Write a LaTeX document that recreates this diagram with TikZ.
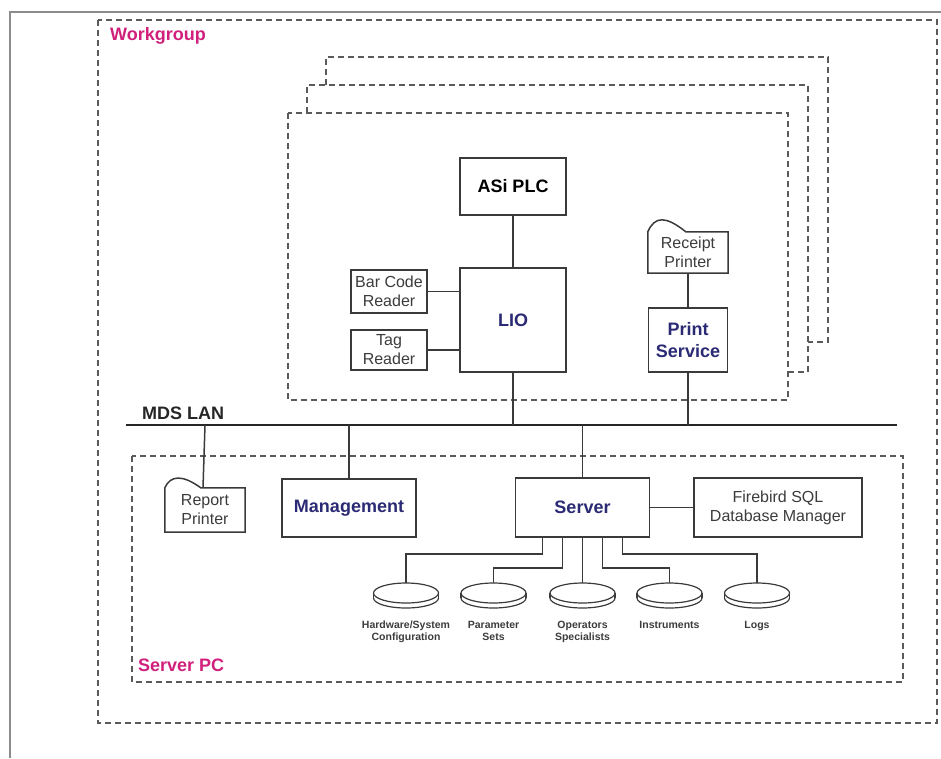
\documentclass[tikz,border=0pt]{standalone}
\usepackage{fontspec}
\setmainfont{Liberation Sans}
\usetikzlibrary{positioning}
\definecolor{wire}{HTML}{3A3A3A}
\definecolor{dashgray}{HTML}{5A5A5A}
\definecolor{rim}{HTML}{8C8C8C}
\definecolor{navy}{HTML}{2B2A74}
\definecolor{rose}{HTML}{D0207C}
\definecolor{capt}{HTML}{3C3C3C}
\newcommand{\bigB}{\fontsize{18}{22}\selectfont\bfseries}
\newcommand{\midR}{\fontsize{16}{19}\selectfont}
\newcommand{\smB}{\fontsize{10.5}{12}\selectfont\bfseries}
\tikzset{dg/.style={line join=miter,x=1pt,y=-1pt},
  box/.style={draw=wire,line width=1.5pt,fill=white,inner sep=0pt,align=center},
  unit/.style={box,font=\bigB,text=navy},
  dev/.style={box,font=\midR,text=capt},
  doc/.style={inner sep=0pt,align=center,font=\midR,text=capt},
  wirel/.style={draw=wire,line width=1.5pt},
  zone/.style={draw=dashgray,line width=1.6pt,dash pattern=on 6pt off 4pt},
  zonelbl/.style={anchor=west,inner sep=0pt,font=\bigB,text=rose},
  dlabel/.style={anchor=north,inner sep=0pt,align=center,font=\smB,text=capt},
  rimline/.style={draw=wire,line width=1.2pt},
  disk/.pic={\draw[rimline,fill=white](0pt,-15pt)ellipse[x radius=32.5pt,y radius=10pt];
    \fill[white](-32.5pt,-10pt)rectangle(32.5pt,-15pt);
    \draw[rimline](-32.5pt,-10pt)--(-32.5pt,-15pt)(32.5pt,-10pt)--(32.5pt,-15pt);
    \draw[rimline,fill=white](0pt,-10pt)ellipse[x radius=32.5pt,y radius=10pt];}}
\newcommand{\docEdge}[3]{\draw[wirel](#1.south west)--(#1.north west)
  .. controls +(#2,#3) and +(-2*#2-6pt,#3) .. ([xshift=2*#2+24pt]#1.north west)--(#1.north east)--(#1.south east)--cycle;}

\begin{document}
\begin{tikzpicture}[dg]
  \useasboundingbox(0,0)rectangle(941,758);
  \draw[rim,line width=2.5pt](10,758)--(10,12)--(941,12);
  % workgroup and the stacked line stations
  \draw[zone](98,20)rectangle(937,723);
  \node[zonelbl](wglbl)at(110,36){Workgroup};
  \draw[zone](326,85)--(326,57)--(828,57)--(828,342)--(808,342);
  \draw[zone](307,113)--(307,85)--(808,85)--(808,372)--(788,372);
  \draw[zone](288,113)rectangle(788,400);
  \node[box,font=\bigB,minimum width=106pt,minimum height=57pt](asi)at(513,186.5){ASi PLC};
  \node[unit,minimum width=106pt,minimum height=104pt](lio)at(513,320){LIO};
  \node[dev,minimum width=76pt,minimum height=43pt](bcr)at(389,291.5){Bar Code\\Reader};
  \node[dev,minimum width=76pt,minimum height=40pt](tag)at(389,350){Tag\\Reader};
  \node[doc,minimum width=80pt,minimum height=41pt](rprn)at(688,252.5){Receipt\\Printer};
  \docEdge{rprn}{7pt}{16pt}
  \node[unit,minimum width=79pt,minimum height=64pt](prs)at(688,340){Print\\Service};
  \draw[wirel](asi)--(lio);
  \draw[wirel](bcr.east)--(bcr.east-|lio.west);
  \draw[wirel](tag.east)--(tag.east-|lio.west);
  \draw[wirel](rprn)--(prs);
  % LAN
  \coordinate(lanW)at(126,425);\coordinate(lanE)at(897,425);
  \draw[draw=black!85,line width=2.6pt](lanW)--(lanE);
  \node[anchor=west,inner sep=0pt,font=\bigB,text=black!85](lanlbl)at(142,413){MDS LAN};
  \draw[wirel](lio.south)--(lio.south|-lanW);
  \draw[wirel](prs.south)--(prs.south|-lanW);
  % server PC
  \draw[zone](132,456)rectangle(903,682);
  \node[zonelbl](pclbl)at(138,665){Server PC};
  \node[doc,minimum width=80pt,minimum height=44pt](rptp)at(205,510){Report\\Printer};
  \docEdge{rptp}{6pt}{13pt}
  \node[unit,minimum width=134pt,minimum height=58pt](mgmt)at(349,508){Management};
  \node[unit,minimum width=134pt,minimum height=59pt](srv)at(582.5,507.5){Server};
  \node[dev,minimum width=168pt,minimum height=59pt](fbd)at(778,507.5){Firebird SQL\\Database Manager};
  \draw[wirel](rptp.north|-lanW)--([xshift=-2pt]rptp.north);
  \draw[wirel](mgmt.north|-lanW)--(mgmt.north);
  \draw[wirel](srv.north|-lanW)--(srv.north);
  \draw[wirel](srv)--(fbd);
  % data stores
  \coordinate(dk1)at(406,583);\coordinate(dk2)at(493.5,583);\coordinate(dk3)at(582.5,583);
  \coordinate(dk4)at(669.5,583);\coordinate(dk5)at(757,583);
  \draw[wirel]([xshift=-40pt]srv.south)--++(0,16)-|(dk1);
  \draw[wirel]([xshift=-20pt]srv.south)--++(0,30)-|(dk2);
  \draw[wirel](srv.south)--(dk3);
  \draw[wirel]([xshift=20pt]srv.south)--++(0,30)-|(dk4);
  \draw[wirel]([xshift=40pt]srv.south)--++(0,16)-|(dk5);
  \foreach \d in {dk1,dk2,dk3,dk4,dk5}{\pic at(\d){disk};}
  \node[dlabel](hwcfg)at(406,621){Hardware/System\\Configuration};
  \node[dlabel](parset)at(493.5,621){Parameter\\Sets};
  \node[dlabel](opspec)at(582.5,621){Operators\\Specialists};
  \node[dlabel](instr)at(669.5,621){Instruments};
  \node[dlabel](logs)at(757,621){Logs};
\end{tikzpicture}
\end{document}
